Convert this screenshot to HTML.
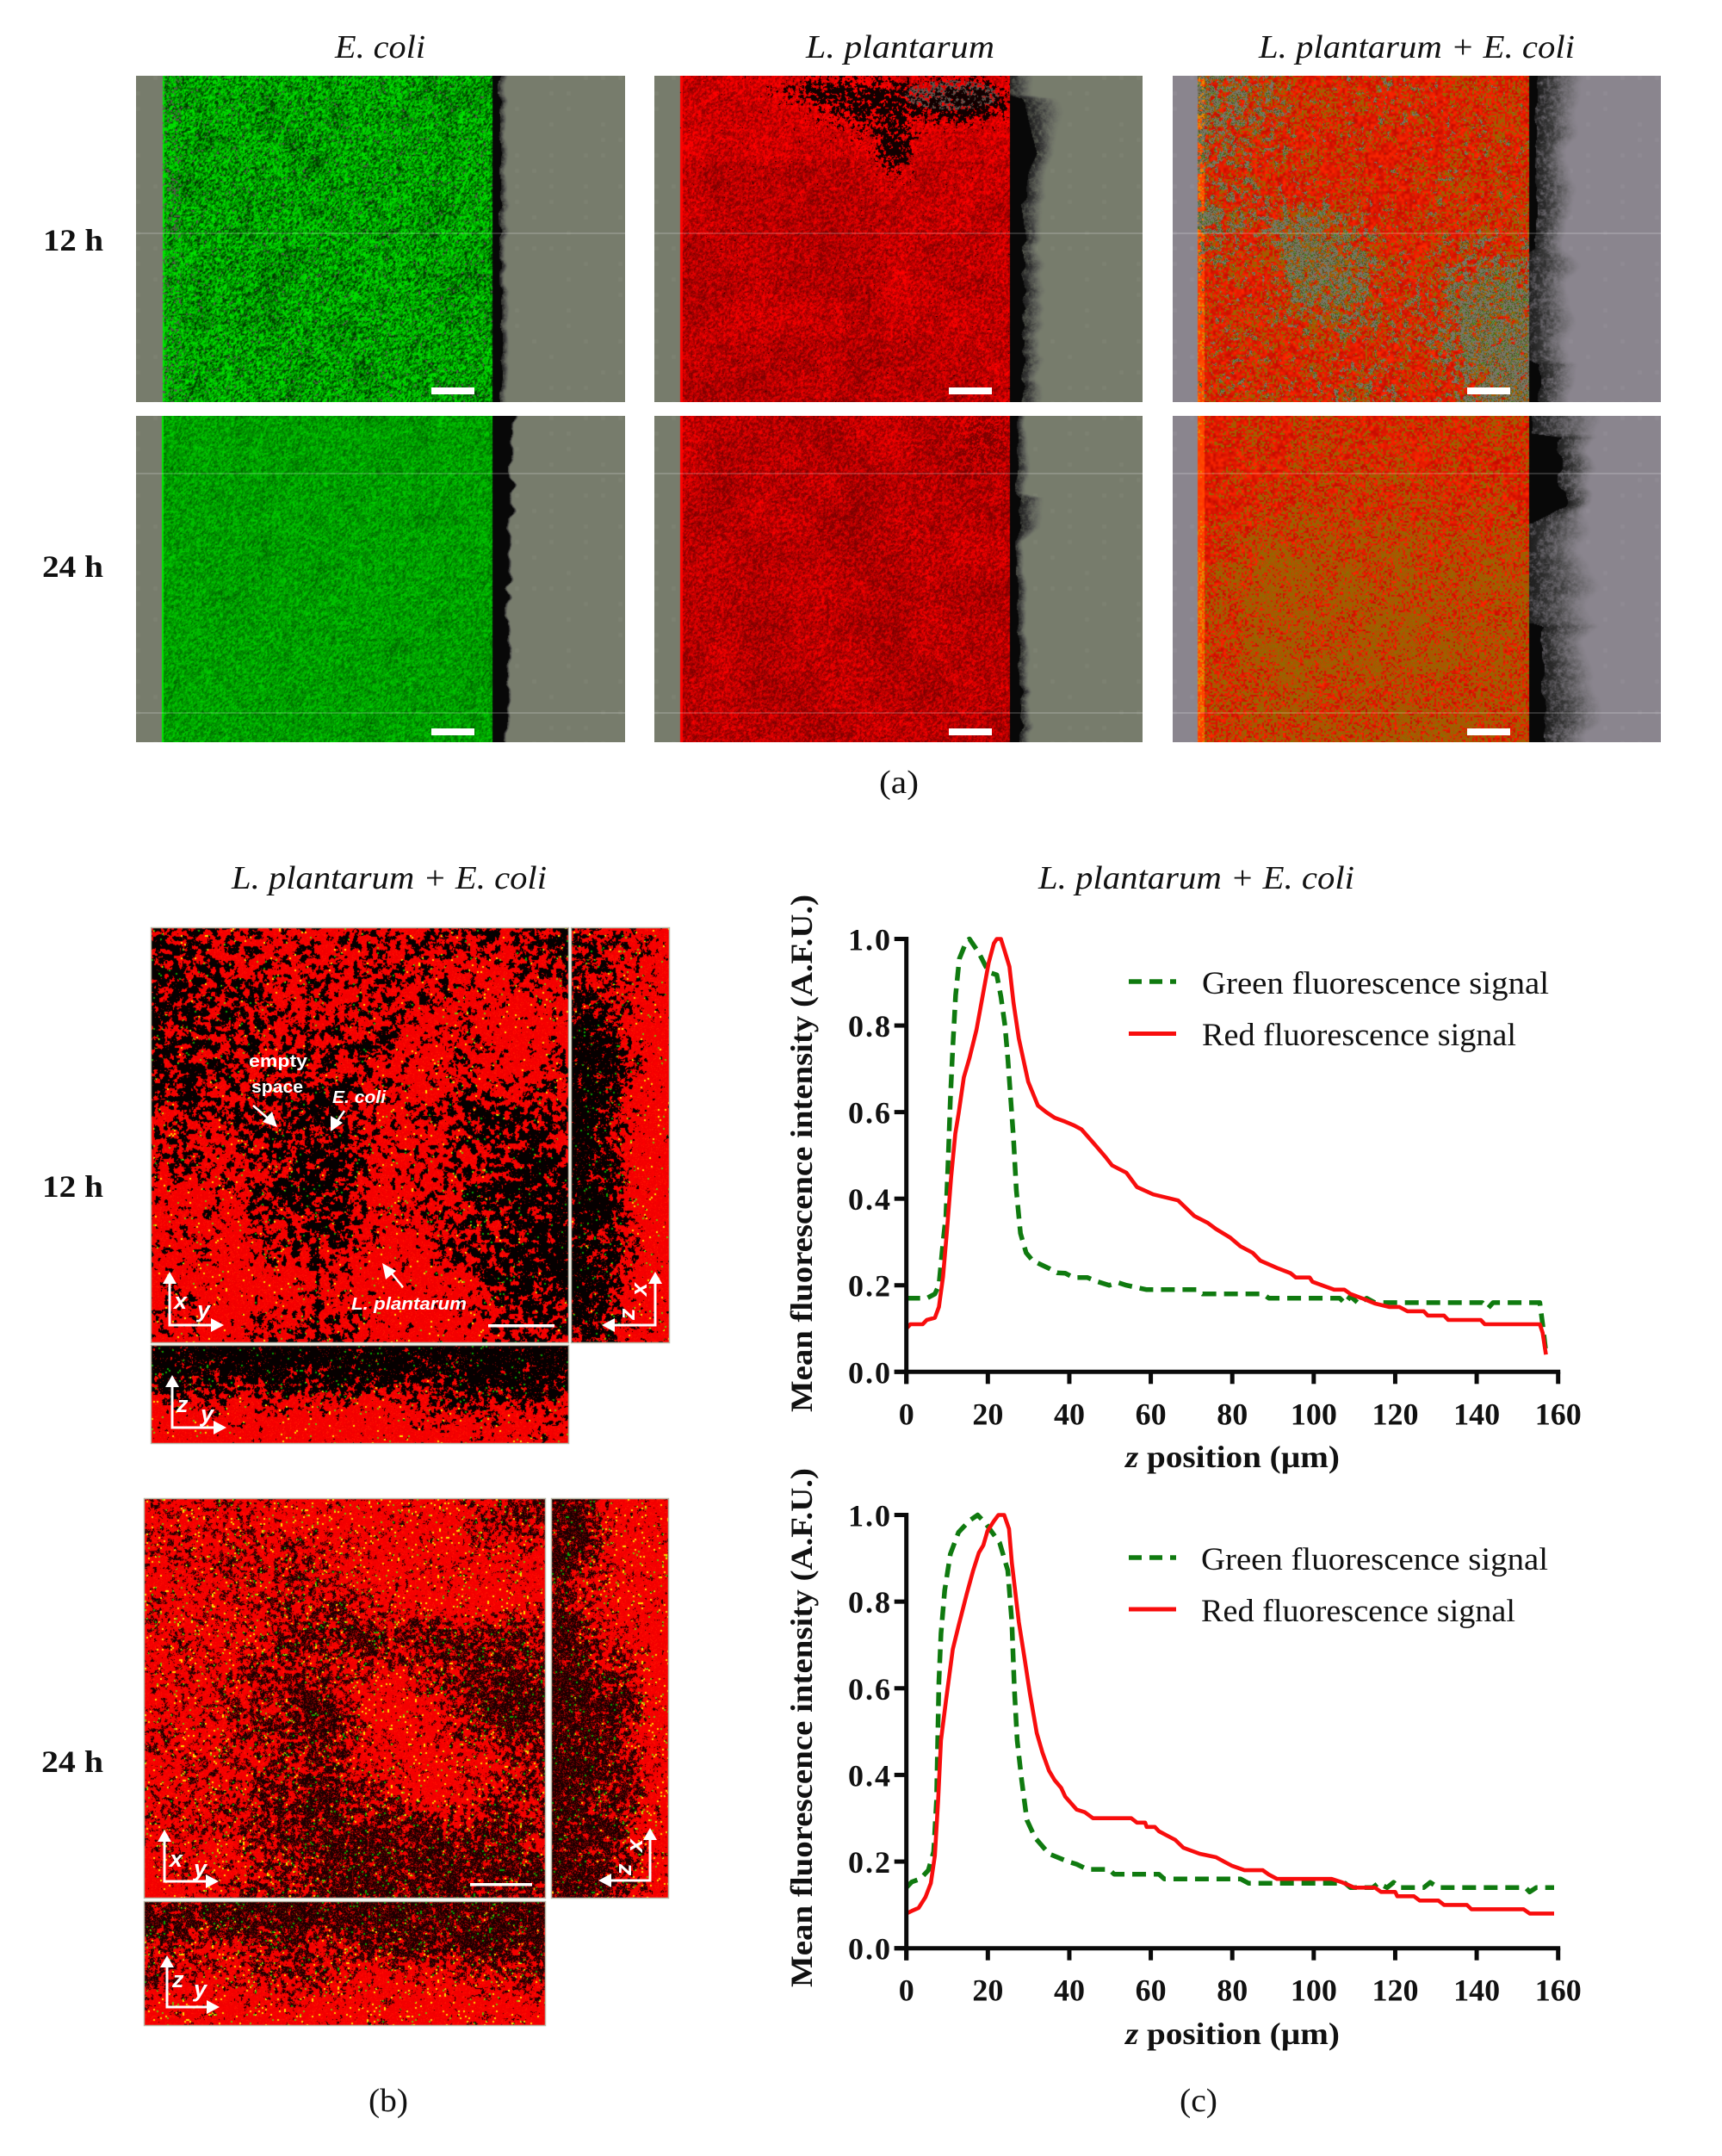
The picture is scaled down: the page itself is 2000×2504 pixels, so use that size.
<!DOCTYPE html>
<html lang="en">
<head>
<meta charset="utf-8">
<title>Biofilm micrographs and fluorescence profiles</title>
<style>
html,body{margin:0;padding:0;background:#fff;}
body{position:relative;width:2000px;height:2504px;overflow:hidden;}
canvas{position:absolute;display:block;}
#overlay{position:absolute;left:0;top:0;}
text{font-family:"Liberation Serif","DejaVu Serif",serif;fill:#111;}
.it{font-style:italic;font-size:38px;}
.bd{font-weight:bold;font-size:36px;}
.lg{font-size:37px;}
.cap{font-size:38px;}
.an{font-family:"Liberation Sans","DejaVu Sans",sans-serif;font-weight:bold;font-size:20px;fill:#fff;}
.ax{font-family:"Liberation Sans","DejaVu Sans",sans-serif;font-weight:bold;font-style:italic;font-size:27px;fill:#fff;}
</style>
</head>
<body>
<canvas id="a11" style="left:158px;top:88px" width="568" height="379"></canvas>
<canvas id="a12" style="left:760px;top:88px" width="567" height="379"></canvas>
<canvas id="a13" style="left:1362px;top:88px" width="567" height="379"></canvas>
<canvas id="a21" style="left:158px;top:483px" width="568" height="379"></canvas>
<canvas id="a22" style="left:760px;top:483px" width="567" height="379"></canvas>
<canvas id="a23" style="left:1362px;top:483px" width="567" height="379"></canvas>
<canvas id="b1xy" style="left:176px;top:1078px" width="484" height="481"></canvas>
<canvas id="b1zx" style="left:664px;top:1078px" width="113" height="481"></canvas>
<canvas id="b1yz" style="left:176px;top:1563px" width="484" height="113"></canvas>
<canvas id="b2xy" style="left:168px;top:1741px" width="465" height="463"></canvas>
<canvas id="b2zx" style="left:641px;top:1741px" width="135" height="463"></canvas>
<canvas id="b2yz" style="left:168px;top:2209px" width="465" height="143"></canvas>

<svg id="overlay" xmlns="http://www.w3.org/2000/svg" width="2000" height="2504" viewBox="0 0 2000 2504">
  <!-- panel (a) titles -->
  <text class="it" x="389" y="67" textLength="105" lengthAdjust="spacingAndGlyphs">E. coli</text>
  <text class="it" x="936" y="67" textLength="219" lengthAdjust="spacingAndGlyphs">L. plantarum</text>
  <text class="it" x="1462" y="67" textLength="367" lengthAdjust="spacingAndGlyphs">L. plantarum + E. coli</text>
  <text class="bd" x="50" y="291" textLength="70" lengthAdjust="spacingAndGlyphs">12 h</text>
  <text class="bd" x="49" y="670" textLength="71" lengthAdjust="spacingAndGlyphs">24 h</text>
  <text class="cap" x="1021" y="921" textLength="46" lengthAdjust="spacingAndGlyphs">(a)</text>

  <!-- panel (a) faint stitching lines and scale bars -->
  <g stroke="#fff" stroke-opacity="0.28" stroke-width="1.2">
    <line x1="158" x2="726" y1="271" y2="271"/><line x1="760" x2="1327" y1="271" y2="271"/><line x1="1362" x2="1929" y1="271" y2="271"/>
    <line x1="158" x2="726" y1="550" y2="550"/><line x1="760" x2="1327" y1="550" y2="550"/><line x1="1362" x2="1929" y1="550" y2="550"/>
    <line x1="158" x2="726" y1="828" y2="828"/><line x1="760" x2="1327" y1="828" y2="828"/><line x1="1362" x2="1929" y1="828" y2="828"/>
  </g>
  <g fill="#fff">
    <rect x="501" y="450" width="50" height="8"/><rect x="1102" y="450" width="50" height="8"/><rect x="1704" y="450" width="50" height="8"/>
    <rect x="501" y="846" width="50" height="8"/><rect x="1102" y="846" width="50" height="8"/><rect x="1704" y="846" width="50" height="8"/>
  </g>

  <!-- panel (b) frames -->
  <g fill="none" stroke="#b9b9a8" stroke-width="1.5">
    <rect x="175.5" y="1077.5" width="485" height="482"/><rect x="663.5" y="1077.5" width="114" height="482"/><rect x="175.5" y="1562.5" width="485" height="114"/>
    <rect x="167.5" y="1740.5" width="466" height="464"/><rect x="640.5" y="1740.5" width="136" height="464"/><rect x="167.5" y="2208.5" width="466" height="144"/>
  </g>

  <!-- panel (b) titles -->
  <text class="it" x="269" y="1032" textLength="366" lengthAdjust="spacingAndGlyphs">L. plantarum + E. coli</text>
  <text class="bd" x="49" y="1390" textLength="71" lengthAdjust="spacingAndGlyphs">12 h</text>
  <text class="bd" x="48" y="2058" textLength="72" lengthAdjust="spacingAndGlyphs">24 h</text>
  <text class="cap" x="428" y="2452" textLength="46" lengthAdjust="spacingAndGlyphs">(b)</text>

  <!-- annotations -->
  <text class="an" x="289" y="1239" textLength="68" lengthAdjust="spacingAndGlyphs">empty</text>
  <text class="an" x="292" y="1269" textLength="60" lengthAdjust="spacingAndGlyphs">space</text>
  <text class="an" x="386" y="1281" textLength="62" lengthAdjust="spacingAndGlyphs" font-style="italic">E. coli</text>
  <text class="an" x="408" y="1521" textLength="134" lengthAdjust="spacingAndGlyphs" font-style="italic">L. plantarum</text>

  <g stroke="#fff" fill="none" stroke-width="2.5">
    <line x1="294" y1="1284" x2="316" y2="1303"/><line x1="400" y1="1290" x2="388" y2="1308"/><line x1="468" y1="1495" x2="450" y2="1473"/>
  </g>
  <g fill="#fff">
    <polygon points="322,1309 305,1303 316,1291"/><polygon points="384,1314 384,1296 398,1304"/><polygon points="444,1467 460,1476 448,1486"/>
  </g>

  <!-- orthogonal axes 12 h -->
  <g stroke="#fff" fill="none" stroke-width="3">
    <polyline points="197,1485 197,1539 250,1539"/><polyline points="761,1485 761,1539 708,1539"/><polyline points="200,1606 200,1658 254,1658"/>
    <rect x="567" y="1538" width="77" height="3.5" fill="#fff" stroke="none"/>
  </g>
  <g fill="#fff">
    <polygon points="197,1477 189,1491 205,1491"/><polygon points="260,1539 245,1531 245,1547"/>
    <polygon points="761,1477 753,1491 769,1491"/><polygon points="699,1539 714,1531 714,1547"/>
    <polygon points="200,1597 192,1611 208,1611"/><polygon points="263,1658 248,1650 248,1666"/>
  </g>
  <text class="ax" x="202" y="1520">x</text>
  <text class="ax" x="229" y="1530">y</text>
  <text class="ax" transform="rotate(-90 741 1499)" x="735" y="1509">x</text>
  <text class="ax" transform="rotate(-90 727 1527)" x="721" y="1537">z</text>
  <text class="ax" x="205" y="1640">z</text>
  <text class="ax" x="233" y="1651">y</text>

  <!-- orthogonal axes 24 h -->
  <g stroke="#fff" fill="none" stroke-width="3">
    <polyline points="191,2133 191,2185 244,2185"/><polyline points="755,2131 755,2184 704,2184"/><polyline points="194,2279 194,2331 245,2331"/>
    <rect x="546" y="2187" width="72" height="3.5" fill="#fff" stroke="none"/>
  </g>
  <g fill="#fff">
    <polygon points="191,2125 183,2139 199,2139"/><polygon points="254,2185 239,2177 239,2193"/>
    <polygon points="755,2123 747,2137 763,2137"/><polygon points="695,2184 710,2176 710,2192"/>
    <polygon points="194,2271 186,2285 202,2285"/><polygon points="255,2331 240,2323 240,2339"/>
  </g>
  <text class="ax" x="197" y="2168">x</text>
  <text class="ax" x="225" y="2179">y</text>
  <text class="ax" transform="rotate(-90 736 2145)" x="730" y="2155">x</text>
  <text class="ax" transform="rotate(-90 723 2172)" x="717" y="2182">z</text>
  <text class="ax" x="200" y="2308">z</text>
  <text class="ax" x="225" y="2319">y</text>

  <!-- panel (c) -->
  <text class="it" x="1206" y="1032" textLength="367" lengthAdjust="spacingAndGlyphs">L. plantarum + E. coli</text>
  <text class="cap" x="1370" y="2452" textLength="44" lengthAdjust="spacingAndGlyphs">(c)</text>

  <g id="chart-top">
    <text class="bd" transform="rotate(-90 943 1640)" x="943" y="1640" textLength="601" lengthAdjust="spacingAndGlyphs">Mean fluorescence intensity (A.F.U.)</text>
    <text class="bd" x="1307" y="1704" textLength="249" lengthAdjust="spacingAndGlyphs"><tspan font-style="italic">z</tspan> position (µm)</text>
    <line x1="1311" x2="1366" y1="1140" y2="1140" stroke="#0f7a0f" stroke-width="5.5" stroke-dasharray="15 9"/>
    <text class="lg" x="1396" y="1154" textLength="403" lengthAdjust="spacingAndGlyphs">Green fluorescence signal</text>
    <line x1="1311" x2="1366" y1="1200.5" y2="1200.5" stroke="#f80d0d" stroke-width="5"/>
    <text class="lg" x="1396" y="1214" textLength="365" lengthAdjust="spacingAndGlyphs">Red fluorescence signal</text>
  </g>
  <g id="chart-bottom">
    <text class="bd" transform="rotate(-90 943 2308)" x="943" y="2308" textLength="603" lengthAdjust="spacingAndGlyphs">Mean fluorescence intensity (A.F.U.)</text>
    <text class="bd" x="1307" y="2374" textLength="249" lengthAdjust="spacingAndGlyphs"><tspan font-style="italic">z</tspan> position (µm)</text>
    <line x1="1311" x2="1366" y1="1809" y2="1809" stroke="#0f7a0f" stroke-width="5.5" stroke-dasharray="15 9"/>
    <text class="lg" x="1395" y="1823" textLength="403" lengthAdjust="spacingAndGlyphs">Green fluorescence signal</text>
    <line x1="1311" x2="1366" y1="1869" y2="1869" stroke="#f80d0d" stroke-width="5"/>
    <text class="lg" x="1395" y="1883" textLength="365" lengthAdjust="spacingAndGlyphs">Red fluorescence signal</text>
  </g>
</svg>

<script>
/* ---------- chart data ---------- */
const xTickValues = [0,20,40,60,80,100,120,140,160];
const xTickLabels = ['0','20','40','60','80','100','120','140','160'];
const yTickValues = [0,0.2,0.4,0.6,0.8,1.0];
const yTickLabels = ['0.0','0.2','0.4','0.6','0.8','1.0'];

const green12hZ = [0,3,5,7,8,9,9.7,10.2,10.8,11.4,12.1,13,14.8,15.5,17.8,19.5,20.5,22.2,23.2,24.2,24.9,25.6,26.3,27,28,29.4,31,33,35,37,39,41,44.4,47,49.8,52,54,59,71.4,72.7,87.5,89,106.4,107.7,109,111,113,115,141.4,142.8,144,155.5,156.2,157];
const green12hValues = [0.17,0.17,0.17,0.18,0.20,0.30,0.36,0.477,0.63,0.75,0.87,0.954,0.996,1.0,0.968,0.936,0.922,0.917,0.867,0.8,0.725,0.633,0.54,0.42,0.32,0.275,0.257,0.248,0.239,0.229,0.228,0.218,0.218,0.208,0.2,0.206,0.2,0.19,0.19,0.18,0.18,0.17,0.17,0.158,0.175,0.158,0.17,0.16,0.16,0.147,0.16,0.16,0.11,0.045];
const red12hZ = [0,1,4,5,7,8,9,10,11,12,12.8,14.1,15.5,17.2,18.6,20.2,21.5,22.2,23.2,24.2,25.3,26.3,27.6,29.9,32.3,34.3,36.4,39,41,43,45.8,49,50.5,54,56.6,60.6,66.7,70.7,74,76,79.5,82,85,86.9,91,94.3,95.6,99,99.7,102,105,107.5,109,111.8,115,118.5,121,123,127,128,132,133,141,142,155.5,156.2,157];
const red12hValues = [0.10,0.11,0.11,0.12,0.125,0.15,0.22,0.33,0.45,0.55,0.596,0.68,0.725,0.79,0.862,0.945,0.99,1.0,1.0,0.97,0.936,0.853,0.77,0.67,0.615,0.6,0.587,0.578,0.57,0.56,0.53,0.495,0.477,0.46,0.427,0.41,0.396,0.36,0.344,0.33,0.31,0.29,0.275,0.257,0.24,0.228,0.218,0.218,0.208,0.2,0.19,0.19,0.18,0.17,0.158,0.15,0.15,0.14,0.14,0.13,0.13,0.12,0.12,0.11,0.11,0.09,0.04];

const green24hZ = [0,1.3,3.4,5.4,6.7,7.4,7.7,8,8.5,9.4,10.8,12.8,15.5,17.5,19.5,22.9,24.9,25.9,26.5,27.2,28.3,29.6,31.6,35,39.7,41.8,44.4,49.8,51,54,62,63.3,82,84,107.7,109,114.5,115.8,118,119.6,121,127,128.6,130.6,152,153,154.6,159];
const green24hValues = [0.14,0.153,0.16,0.18,0.223,0.34,0.48,0.616,0.726,0.826,0.91,0.96,0.987,1.0,0.98,0.936,0.872,0.753,0.6,0.48,0.388,0.296,0.255,0.218,0.2,0.194,0.182,0.182,0.171,0.171,0.171,0.16,0.16,0.15,0.15,0.14,0.14,0.15,0.14,0.152,0.14,0.14,0.152,0.14,0.14,0.13,0.14,0.14];
const red24hZ = [0,1.3,3,4.7,6,7,7.8,8.5,9.7,11.4,12.8,14.8,16.4,17.8,18.9,19.9,21.5,22.6,24,25.2,25.9,27.6,29,30.3,32,33.4,35,36.4,38,39,41.8,43.8,45.8,55.2,56.6,58.6,59,61,62,64,66,68,72,76,78,80,83,87.5,89,91,104.4,107,110,115,116.5,120,120.5,124.6,126,130.6,132,137.6,138.7,151.5,153,159];
const red24hValues = [0.08,0.086,0.093,0.118,0.15,0.214,0.342,0.48,0.57,0.69,0.744,0.817,0.872,0.913,0.93,0.963,0.986,1.0,1.0,0.968,0.89,0.753,0.67,0.589,0.497,0.452,0.41,0.388,0.37,0.35,0.32,0.314,0.30,0.30,0.29,0.29,0.28,0.28,0.27,0.26,0.25,0.232,0.218,0.21,0.2,0.19,0.18,0.18,0.17,0.16,0.16,0.152,0.14,0.14,0.13,0.13,0.12,0.12,0.11,0.11,0.10,0.10,0.09,0.09,0.08,0.08];

/* ---------- chart drawing ---------- */
const SVGNS = 'http://www.w3.org/2000/svg';
const plotLeft = 1052.7, plotRight = 1809.7, xMax = 160;
function xScale(z){ return plotLeft + (z / xMax) * (plotRight - plotLeft); }
function makeYScale(yZero, yOne){ return function(v){ return yZero + v * (yOne - yZero); }; }
function svgEl(parent, tag, attrs){
  const el = document.createElementNS(SVGNS, tag);
  for (const k in attrs) el.setAttribute(k, attrs[k]);
  parent.appendChild(el);
  return el;
}
function linePath(zs, vs, yScale){
  return zs.map(function(z, i){ return (i ? 'L' : 'M') + xScale(z).toFixed(1) + ' ' + yScale(vs[i]).toFixed(1); }).join(' ');
}
function drawChart(groupId, yZero, yOne, gz, gv, rz, rv){
  const g = document.getElementById(groupId);
  const yScale = makeYScale(yZero, yOne);

  const greenLine = svgEl(g, 'path', {d: linePath(gz, gv, yScale), fill:'none', stroke:'#0f7a0f', 'stroke-width':5.5, 'stroke-dasharray':'16 9', 'stroke-linejoin':'round'});
  
  

  const redLine = svgEl(g, 'path', {d: linePath(rz, rv, yScale), fill:'none', stroke:'#f80d0d', 'stroke-width':4.6, 'stroke-linejoin':'round'});
  
  

  const yAxis = svgEl(g, 'line', {x1:plotLeft, x2:plotLeft, y1:yScale(1)-2.5, y2:yZero+14, stroke:'#0a0a0a', 'stroke-width':5});
  
  

  const xAxis = svgEl(g, 'line', {x1:plotLeft-14, x2:plotRight+2.5, y1:yZero, y2:yZero, stroke:'#0a0a0a', 'stroke-width':5});
  
  

  xTickValues.forEach(function(v, i){
    const t = svgEl(g, 'line', {x1:xScale(v), x2:xScale(v), y1:yZero, y2:yZero+14, stroke:'#0a0a0a', 'stroke-width':5});
    
    
    const lab = svgEl(g, 'text', {x:xScale(v), y:yZero+61, 'text-anchor':'middle', 'class':'bd'});
    lab.textContent = xTickLabels[i];
    
    
  });
  yTickValues.forEach(function(v, i){
    const t = svgEl(g, 'line', {x1:plotLeft-14, x2:plotLeft, y1:yScale(v), y2:yScale(v), stroke:'#0a0a0a', 'stroke-width':5});
    
    
    const lab = svgEl(g, 'text', {x:1034, y:yScale(v)+13, 'text-anchor':'end', 'class':'bd', textLength:49, lengthAdjust:'spacing'});
    lab.textContent = yTickLabels[i];
    
    
  });
}
drawChart('chart-top', 1593.3, 1090.5, green12hZ, green12hValues, red12hZ, red12hValues);
drawChart('chart-bottom', 2262.7, 1759.5, green24hZ, green24hValues, red24hZ, red24hValues);

/* ---------- micrograph textures ---------- */
const TS = 1024, HT = new Float32Array(TS * TS);
(function(){ let s = 12345; for (let i = 0; i < HT.length; i++){ s = (s * 1664525 + 1013904223) >>> 0; HT[i] = s / 4294967296; } })();
function hash(ix, iy){ return HT[((iy & 1023) << 10) | (ix & 1023)]; }
function noise(x, y){
  const ix = Math.floor(x), iy = Math.floor(y);
  let fx = x - ix, fy = y - iy;
  fx = fx * fx * (3 - 2 * fx); fy = fy * fy * (3 - 2 * fy);
  const a = hash(ix, iy), b = hash(ix + 1, iy), c = hash(ix, iy + 1), d = hash(ix + 1, iy + 1);
  return a + (b - a) * fx + (c - a) * fy + (a - b - c + d) * fx * fy;
}
function fbm(x, y){ return noise(x, y) * 0.5 + noise(x * 2 + 17, y * 2 + 31) * 0.3 + noise(x * 4 + 5, y * 4 + 9) * 0.2; }
function clamp01(v){ return v < 0 ? 0 : v > 1 ? 1 : v; }
function grid(rows, u, v){
  const h = rows.length, w = rows[0].length;
  const gx = clamp01(u) * w - 0.5, gy = clamp01(v) * h - 0.5;
  const x0 = Math.max(0, Math.floor(gx)), y0 = Math.max(0, Math.floor(gy));
  const x1 = Math.min(w - 1, x0 + 1), y1 = Math.min(h - 1, y0 + 1);
  const fx = clamp01(gx - x0), fy = clamp01(gy - y0);
  const val = function(a, b){ return rows[b].charCodeAt(a) - 48; };
  const t = val(x0, y0) * (1 - fx) + val(x1, y0) * fx, d = val(x0, y1) * (1 - fx) + val(x1, y1) * fx;
  return (t * (1 - fy) + d * fy) / 9;
}
function blobs(list, x, y){
  let s = 0;
  for (let i = 0; i < list.length; i++){
    const b = list[i], dx = (x - b[0]) / b[2], dy = (y - b[1]) / b[3];
    s += b[4] * Math.exp(-(dx * dx + dy * dy));
  }
  return s;
}
function stopsAt(st, y){
  for (let i = 1; i < st.length; i++){
    if (y <= st[i][0]){
      const a = st[i - 1], b = st[i], f = (y - a[0]) / Math.max(1, b[0] - a[0]);
      return [a[1] + (b[1] - a[1]) * f, a[2] + (b[2] - a[2]) * f];
    }
  }
  const l = st[st.length - 1];
  return [l[1], l[2]];
}
function paint(id, fn){
  const cv = document.getElementById(id), ctx = cv.getContext('2d');
  const w = cv.width, h = cv.height, im = ctx.createImageData(w, h), d = im.data;
  const out = [0, 0, 0];
  for (let y = 0; y < h; y++) for (let x = 0; x < w; x++){
    fn(x, y, w, h, out);
    const i = (y * w + x) * 4;
    d[i] = out[0]; d[i + 1] = out[1]; d[i + 2] = out[2]; d[i + 3] = 255;
  }
  ctx.putImageData(im, 0, 0);
}
const BG_GREEN = [119, 124, 108], BG_PURPLE = [138, 133, 142];
function setBg(o, bg, x, y){
  const f = hash(Math.floor(x / 20) * 3, Math.floor(y / 18) * 5) > 0.6 && (x % 20 < 5) && (y % 18 < 5) ? 5 : 0;
  o[0] = bg[0] + f; o[1] = bg[1] + f; o[2] = bg[2] + f;
}
function edgePixel(x, y, dx, bg, st, seed, o){
  const s = stopsAt(st, y);
  const n = noise(x / 4 + seed, y / 4 + seed), gr = noise(x / 1.4 + seed, y / 1.4);
  const black = s[0] > 0 ? s[0] + (noise(seed, y / 10) - 0.5) * (3 + s[0] * 0.3) : 0;
  if (dx < black){ o[0] = 8; o[1] = 8; o[2] = 8; return; }
  const fd = s[1] * (0.8 + 0.4 * noise(seed + 3, y / 22));
  const q = (dx - black) / Math.max(1, fd);
  if (q < 1){
    const al = clamp01((1 - q * q) * (0.6 + gr * 0.6 + (n - 0.5) * 0.7));
    const dark = 30 + 70 * q;
    o[0] = bg[0] + (dark - bg[0]) * al; o[1] = bg[1] + (dark - bg[1]) * al; o[2] = bg[2] + (dark - bg[2]) * al;
    return;
  }
  setBg(o, bg, x, y);
}
const edgeP1R1 = [[0,8,8],[378,10,8]];
const edgeP2R1 = [[0,0,25],[22,0,30],[26,12,45],[90,30,20],[110,20,20],[130,16,20],[378,15,22]];
const edgeP3R1 = [[0,8,45],[200,8,40],[205,0,50],[300,0,50],[330,0,40],[335,12,40],[378,12,35]];
const edgeP1R2 = [[0,24,3],[120,20,3],[378,14,3]];
const edgeP2R2 = [[0,10,8],[30,10,12],[90,6,14],[95,12,30],[130,10,28],[145,6,10],[378,14,12]];
const edgeP3R2 = [[0,2,70],[20,2,70],[25,38,40],[105,38,30],[125,0,70],[240,0,70],[245,16,60],[378,16,55]];

function greenPanel(left, right, row, st, seed){
  return function(x, y, w, h, o){
    if (x < left){ setBg(o, BG_GREEN, x, y); return; }
    if (x >= right){ edgePixel(x, y, x - right, BG_GREEN, st, seed, o); return; }
    const t = fbm((x + seed) / 1.7 + y / 4, (y + seed) / 2.1);
    if (row === 1){
      let v = clamp01((t - 0.5) * 2.4 + 0.62);
      const pd = noise(x / 26 + seed, y / 26);
      v -= Math.max(0, 0.4 - pd) * 0.5;
      const edge = x - left < 22 ? 0.28 : 0.05;
      if (hash(x >> 1, (y >> 1) + 77) < edge && v < 0.6){ o[0] = 85; o[1] = 90; o[2] = 75; return; }
      v = clamp01(v);
      o[0] = 0; o[1] = 50 + 175 * v; o[2] = 0;
    } else {
      let v = clamp01((t - 0.5) * 1.7 + 0.58);
      v -= Math.max(0, 0.3 - noise(x / 30, y / 30 + seed)) * 0.5;
      o[0] = 0; o[1] = 92 + 115 * clamp01(v); o[2] = 0;
    }
    if (x - left < 2) o[1] = 230;
  };
}
const darkR1 = [[190,14,60,22,0.55],[300,28,105,30,0.8],[278,85,22,32,1.0],[372,28,40,26,0.6],[230,55,35,22,0.35]];
const grayR1 = [[345,22,70,22,0.55]];
const darkR2 = [[380,30,30,32,0.45]];
function redPanel(left, right, row, st, seed){
  return function(x, y, w, h, o){
    if (x < left){ setBg(o, BG_GREEN, x, y); return; }
    if (x >= right){ edgePixel(x, y, x - right, BG_GREEN, st, seed, o); return; }
    const t = fbm((x + seed) / 2, (y + seed) / 2 + x / 7);
    let v = clamp01((t - 0.5) * 1.9 + 0.5);
    const big = noise(x / 40 + seed, y / 40);
    v += (big - 0.5) * 0.3;
    if (row === 1){
      const d = blobs(darkR1, x, y);
      const spot = fbm(x / 3, y / 3) + d * 0.55;
      if (spot > 0.86){
        if (blobs(grayR1, x, y) > 0.3 && spot < 1.0){ o[0] = 95; o[1] = 85; o[2] = 78; }
        else { o[0] = 18; o[1] = 0; o[2] = 0; }
        return;
      }
      v += d * 0.4;
      if (y < 100) v += 0.15;
      v -= Math.max(0, 0.3 - noise(x / 14, y / 14 + seed)) * 0.7;
    } else {
      const d = blobs(darkR2, x, y);
      v -= d * (t > 0.5 ? 0.1 : 1.0);
      v -= 0.05;
    }
    if (x - left < 3) v = 1;
    o[0] = 125 + 130 * clamp01(v); o[1] = 0; o[2] = 0;
  };
}
const grayGridR1 = ['64112100','54111110','52101111','32100111','53741122','31862133','11661267','11353377','11111278','22143148'];
const redGridR1 = ['66777866','76677875','77678765','78778766','77357766','76346776','77447866','76666755','77777766','76767765'];
const redGridR2 = ['86667655','86656766','96556567','74344444','52233333','52222223','42222223','52222233','52353334','63343333'];
function mixPanel(left, right, row, st, seed){
  const iw = right - left;
  return function(x, y, w, h, o){
    if (x < left){ setBg(o, BG_PURPLE, x, y); return; }
    if (x >= right){ edgePixel(x, y, x - right, BG_PURPLE, st, seed, o); return; }
    const u = (x - left) / iw, v = y / h;
    const r = hash((x >> 1) + seed, (y >> 1) + seed);
    const pn = noise(x / 18 + seed, y / 18);
    if (row === 1){
      const gp = grid(grayGridR1, u, v);
      if (fbm(x / 5 + seed, y / 5) + (gp - 0.35) * 0.55 > 0.57 && r < 0.85){
        const k = hash(x, y + 9);
        if (k < 0.08){ o[0] = 50; o[1] = 150; o[2] = 20; }
        else if (k < 0.3){ o[0] = 85; o[1] = 80; o[2] = 30; }
        else { o[0] = 122; o[1] = 118; o[2] = 102; }
        return;
      }
    }
    const m = (row === 1 ? grid(redGridR1, u, v) : grid(redGridR2, u, v)) + (pn - 0.5) * 0.55;
    if (r < m * 0.9 + 0.05){
      const k = noise(x / 3, y / 3 + seed);
      o[0] = 195 + 60 * k; o[1] = 30 * k + 10; o[2] = 0;
    } else {
      const k = hash(x, y);
      if (k < 0.5){ o[0] = 135 + 30 * k; o[1] = 108; o[2] = 0; }
      else { o[0] = 185; o[1] = 75; o[2] = 0; }
    }
    if (u < 0.02){ o[0] = Math.min(255, o[0] + 70); o[1] = Math.min(150, o[1] + 40); }
  };
}
paint('a11', greenPanel(31, 414, 1, edgeP1R1, 11));
paint('a12', redPanel(30, 413, 1, edgeP2R1, 23));
paint('a13', mixPanel(29, 414, 1, edgeP3R1, 37));
paint('a21', greenPanel(30, 414, 2, edgeP1R2, 53));
paint('a22', redPanel(30, 413, 2, edgeP2R2, 71));
paint('a23', mixPanel(29, 414, 2, edgeP3R2, 91));

function confocal(rows, seed, opts){
  return function(x, y, w, h, o){
    const u = x / w, v = y / h;
    const d = grid(rows, u, v);
    const s = opts.scale;
    const t = fbm(x / s + seed, y / s + seed) * 0.88 + noise(x / 24 + seed, y / 24) * 0.12;
    const isRed = t + (d - 0.5) * opts.k + opts.bias > 0.5;
    const c = (x >> 1) + seed, e = (y >> 1) + seed;
    const hs = hash(c * 3 + 5, e * 7 + 1);
    if (isRed){
      if (hs < opts.yellow){ o[0] = 255; o[1] = 225; o[2] = 0; return; }
      if (hs > 1 - opts.green * 0.4){ o[0] = 120; o[1] = 190; o[2] = 0; return; }
      const k = hash(x, y);
      o[0] = 236 + 19 * k; o[1] = k > 0.9 ? 24 : 0; o[2] = 0;
    } else {
      if (hs < opts.green){ o[0] = 10; o[1] = 170; o[2] = 0; return; }
      if (hash(x + 3, y + 5) < opts.fill){ o[0] = 150; o[1] = 0; o[2] = 0; return; }
      o[0] = opts.dark; o[1] = 0; o[2] = 0;
    }
  };
}
const xy12h = ['5677676665','4567666787','4556668798','4565578677','5653487455','6663388644','8863387643','7876587542','8998798733','7876589855'];
const side12h = ['5668','3579','1389','1269','1379','1489','1379','2369','2379','3489'];
const bottom12h = ['1111111111','3333333232','7777787566','9999999888'];
const xy24h = ['7878888854','7765788888','7765579899','7775323333','7754478432','7653279632','7664379873','7753235855','7753222234','8764222233'];
const side24h = ['1599','2689','3799','2579','1239','1238','1138','1239','1249','1238'];
const bottom24h = ['2211111111','5654543322','3764588755','9999999999'];
const opt12 = {scale:5.5, k:0.5, bias:-0.045, yellow:0.012, green:0.012, fill:0.02, dark:6};
const opt12b = {scale:4.5, k:0.5, bias:-0.02, yellow:0.012, green:0.02, fill:0.04, dark:6};
const opt24 = {scale:4, k:0.42, bias:0, yellow:0.035, green:0.03, fill:0.22, dark:30};
paint('b1xy', confocal(xy12h, 101, opt12));
paint('b1zx', confocal(side12h, 131, opt12b));
paint('b1yz', confocal(bottom12h, 157, opt12b));
paint('b2xy', confocal(xy24h, 181, opt24));
paint('b2zx', confocal(side24h, 211, opt24));
paint('b2yz', confocal(bottom24h, 241, opt24));
</script>
</body>
</html>
